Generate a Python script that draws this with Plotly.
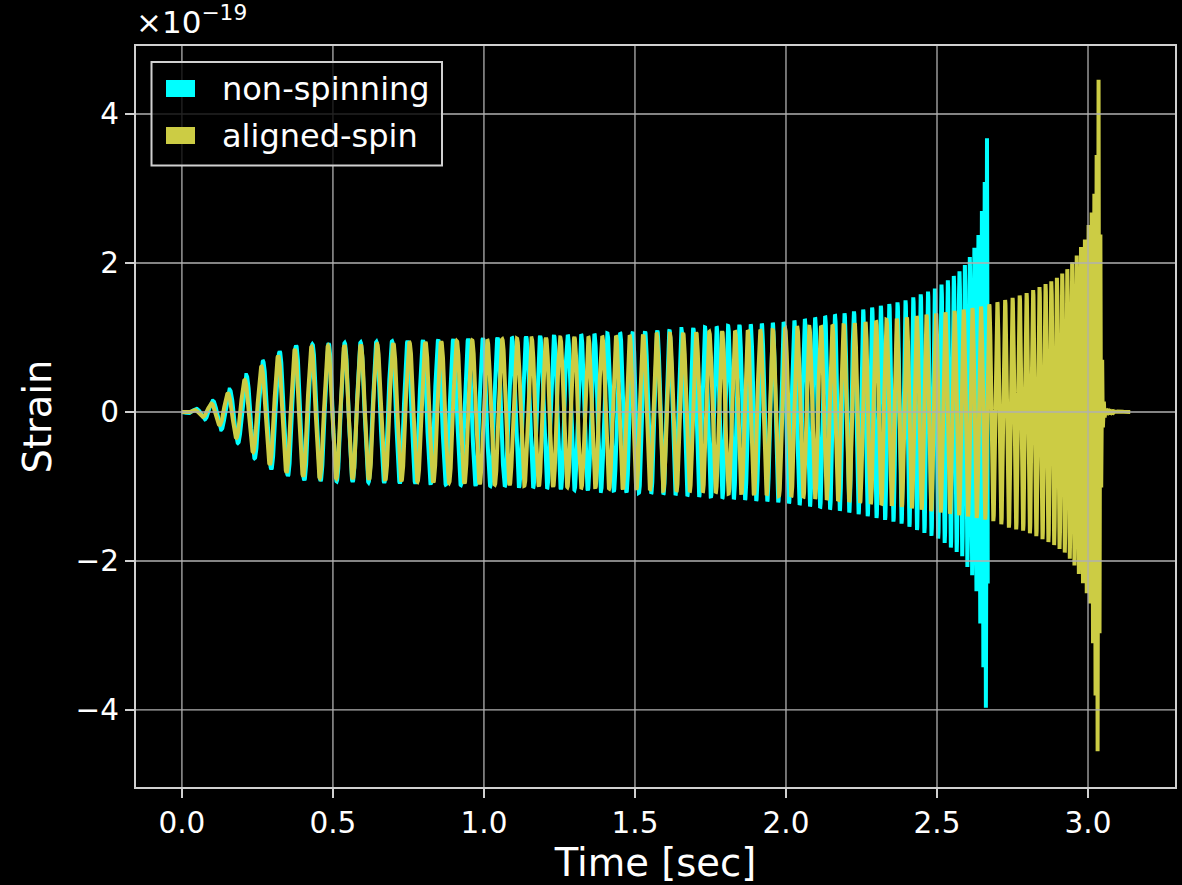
import numpy as np
import plotly.graph_objects as go

# ---- data (strain in units of 1e-19, time in s) ----
# non-spinning: upper / lower envelope of the oscillation
ns_up_t = [0.0, 0.03, 0.06, 0.111, 0.164, 0.22, 0.274, 0.33, 0.385, 0.438, 0.492, 1.0, 1.5, 2.0, 2.2, 2.39, 2.49, 2.53, 2.57, 2.59, 2.605, 2.62, 2.635, 2.645, 2.655, 2.661, 2.6656, 2.668]
ns_up_v = [0.0, 0.02, 0.06, 0.17, 0.32, 0.52, 0.70, 0.83, 0.90, 0.91, 0.92, 0.99, 1.07, 1.21, 1.33, 1.49, 1.65, 1.75, 1.87, 1.96, 2.05, 2.17, 2.32, 2.59, 2.88, 3.30, 3.69, 3.69]
ns_lo_t = [0.0, 0.05, 0.131, 0.186, 0.24, 0.297, 0.352, 0.41, 0.5, 1.0, 1.5, 2.0, 2.2, 2.377, 2.51, 2.585, 2.605, 2.625, 2.64, 2.65, 2.6623, 2.668]
ns_lo_v = [0.0, -0.04, -0.24, -0.42, -0.62, -0.77, -0.86, -0.92, -0.93, -0.99, -1.08, -1.22, -1.34, -1.49, -1.71, -1.94, -2.12, -2.25, -2.67, -3.19, -4.01, -4.01]
# non-spinning: apparent oscillation frequency (Hz)
ns_f_t = [0.0, 0.3, 0.5, 0.75, 1.0, 1.25, 1.5, 1.75, 2.0, 2.12, 2.25, 2.365, 2.45, 2.53, 2.59, 2.62, 2.64, 2.655, 2.668]
ns_f_v = [17.8, 18.1, 18.8, 19.5, 20.6, 22.0, 24.3, 26.0, 28.0, 30.2, 33.0, 37.0, 41.0, 48.0, 57.0, 68.0, 80.0, 110.0, 150.0]
ns_end, ns_peak = 2.668, 2.6656

# aligned-spin
as_up_t = [0.0, 0.03, 0.078, 0.111, 0.166, 0.222, 0.279, 0.334, 0.39, 0.447, 0.51, 1.0, 1.5, 2.0, 2.25, 2.4, 2.47, 2.53, 2.595, 2.65, 2.705, 2.757, 2.805, 2.85, 2.89, 2.93, 2.96, 2.99, 3.012, 3.026, 3.035, 3.041, 3.046, 3.052, 3.06, 3.14]
as_up_v = [0.0, 0.02, 0.054, 0.16, 0.28, 0.48, 0.66, 0.79, 0.86, 0.88, 0.89, 0.97, 1.03, 1.12, 1.20, 1.27, 1.31, 1.34, 1.38, 1.42, 1.48, 1.54, 1.61, 1.70, 1.78, 1.91, 2.08, 2.32, 2.68, 3.09, 4.49, 2.4, 0.8, 0.15, 0.01, 0.0]
as_lo_t = [0.0, 0.04, 0.094, 0.15, 0.2, 0.26, 0.31, 0.365, 0.42, 0.5, 1.0, 1.5, 2.0, 2.377, 2.6, 2.692, 2.742, 2.792, 2.841, 2.885, 2.924, 2.951, 2.979, 3.007, 3.02, 3.0319, 3.038, 3.044, 3.05, 3.06, 3.14]
as_lo_v = [0.0, -0.03, -0.10, -0.24, -0.42, -0.62, -0.76, -0.84, -0.88, -0.89, -0.97, -1.04, -1.13, -1.27, -1.40, -1.47, -1.56, -1.60, -1.69, -1.78, -1.89, -2.03, -2.25, -2.56, -3.30, -4.58, -3.0, -1.0, -0.15, -0.01, 0.0]
as_f_t = [0.0, 0.3, 0.75, 1.0, 1.25, 1.5, 1.75, 2.0, 2.25, 2.45, 2.6, 2.7, 2.8, 2.87, 2.93, 2.97, 3.0, 3.02, 3.035, 3.07]
as_f_v = [17.8, 18.0, 18.75, 20.0, 21.3, 22.3, 23.3, 24.5, 28.0, 31.0, 34.0, 38.0, 45.0, 52.0, 60.0, 70.0, 85.0, 120.0, 160.0, 200.0]
as_end, as_peak = 3.14, 3.035

series_names = ["non-spinning", "aligned-spin"]
series_colors = ["#00ffff", "#cccc44"]

x_ticks = [0.0, 0.5, 1.0, 1.5, 2.0, 2.5, 3.0]
y_ticks = [-4, -2, 0, 2, 4]

FS = 4096.0


def waveform(t_end, f_t, f_v, up_t, up_v, lo_t, lo_v, t_peak):
    t = np.arange(0.0, t_end + 0.5 / FS, 1.0 / FS)
    f = np.interp(t, f_t, f_v)
    phase = 2 * np.pi * np.cumsum(f) / FS
    phase = phase - np.interp(t_peak, t, phase)
    c = np.cos(phase)
    up = np.interp(t, up_t, up_v)
    lo = np.interp(t, lo_t, lo_v)
    h = np.where(c >= 0, c * up, -c * lo)
    return t, h


t1, h1 = waveform(ns_end, ns_f_t, ns_f_v, ns_up_t, ns_up_v, ns_lo_t, ns_lo_v, ns_peak)
t2, h2 = waveform(as_end, as_f_t, as_f_v, as_up_t, as_up_v, as_lo_t, as_lo_v, as_peak)

FONT = "DejaVu Sans"
fig = go.Figure()
for (t, h), name, col in zip([(t1, h1), (t2, h2)], series_names, series_colors):
    fig.add_trace(go.Scatter(x=t, y=h, mode="lines", name=name,
                             line=dict(color=col, width=4), showlegend=False,
                             hoverinfo="skip"))

XR = [-0.152, 3.288]
YR = [-5.034, 4.913]
L, R, T, B = 136, 7, 46, 98
W, H = 1182, 885
pw, ph = W - L - R, H - T - B


def px2paper(px, py):
    return (px - L) / pw, (H - B - py) / ph


shapes = []
# grid drawn above data (as in reference)
for xv in x_ticks:
    shapes.append(dict(type="line", xref="x", yref="paper", x0=xv, x1=xv, y0=0, y1=1,
                       line=dict(color="#b0b0b0", width=1.3), layer="above"))
for yv in y_ticks:
    shapes.append(dict(type="line", xref="paper", yref="y", x0=0, x1=1, y0=yv, y1=yv,
                       line=dict(color="#b0b0b0", width=1.3), layer="above"))

# legend box
bx0, by0 = px2paper(151.5, 62)
bx1, by1 = px2paper(442, 165.5)
shapes.append(dict(type="rect", xref="paper", yref="paper", x0=bx0, x1=bx1, y0=by1, y1=by0,
                   line=dict(color="#d0d0d0", width=2), fillcolor="rgba(0,0,0,0.8)", layer="above"))
annotations = []
for i, (name, col) in enumerate(zip(series_names, series_colors)):
    cy = 88.5 + i * 47
    px0, py0 = px2paper(166, cy - 8.5)
    px1, py1 = px2paper(195, cy + 8.5)
    shapes.append(dict(type="rect", xref="paper", yref="paper", x0=px0, x1=px1, y0=py1, y1=py0,
                       line=dict(width=0), fillcolor=col, layer="above"))
    tx, ty = px2paper(220, cy)
    annotations.append(dict(xref="paper", yref="paper", x=tx, y=ty, xanchor="left", yanchor="middle",
                            text=name, showarrow=False, font=dict(family=FONT, size=32, color="white")))

# offset text
ox, oy = px2paper(134, 42)
annotations.append(dict(xref="paper", yref="paper", x=ox, y=oy, xanchor="left", yanchor="bottom",
                        text="×10<sup>−19</sup>", showarrow=False,
                        font=dict(family=FONT, size=31, color="white")))

axis_common = dict(showgrid=False, zeroline=False, showline=True, linecolor="#d0d0d0", linewidth=2,
                   mirror=True, ticks="outside", ticklen=9, tickwidth=1.5, tickcolor="#d0d0d0",
                   tickfont=dict(family=FONT, size=29.5, color="white"), layer="above traces")

fig.update_layout(
    width=W, height=H, margin=dict(l=L, r=R, t=T, b=B, autoexpand=False),
    paper_bgcolor="black", plot_bgcolor="black",
    xaxis=dict(range=XR, tickvals=x_ticks, ticktext=[f"{v:.1f}" for v in x_ticks],
               title=dict(text="Time [sec]", font=dict(family=FONT, size=38.5, color="white"), standoff=9),
               **axis_common),
    yaxis=dict(range=YR, tickvals=y_ticks, ticktext=[("−" if v < 0 else "") + str(abs(v)) for v in y_ticks],
               title=dict(text="Strain", font=dict(family=FONT, size=38.5, color="white"), standoff=12),
               **axis_common),
    shapes=shapes, annotations=annotations, showlegend=False,
)

fig.write_html("out.html")
